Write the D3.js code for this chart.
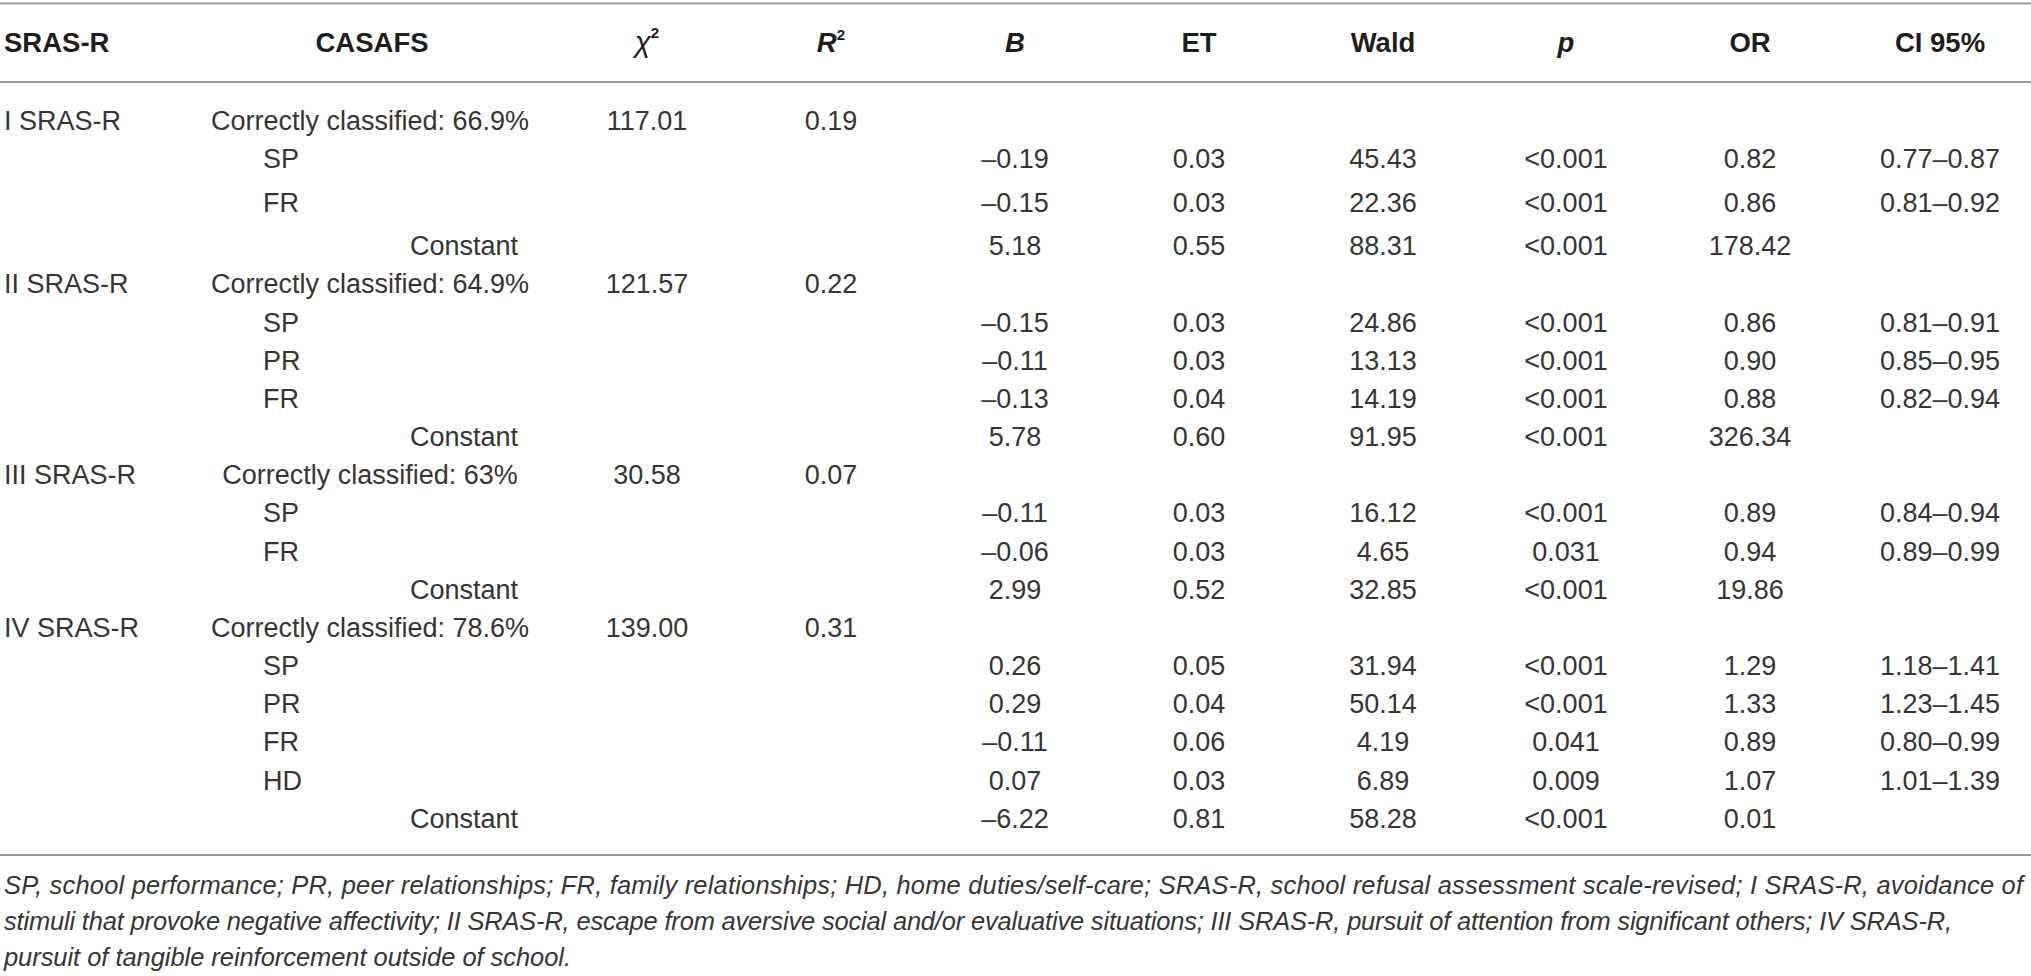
<!DOCTYPE html>
<html>
<head>
<meta charset="utf-8">
<script src="https://cdn.jsdelivr.net/npm/d3@7"></script>
<style>
  html, body { margin: 0; padding: 0; background: #fff; }
  svg { display: block; }
</style>
</head>
<body>
<svg id="chart" width="2031" height="976"></svg>
<script>
// ---------- DATA ----------
const headers = ["SRAS-R", "CASAFS", "χ2", "R2", "B", "ET", "Wald", "p", "OR", "CI 95%"];
const rowType = ["group","pred","pred","const","group","pred","pred","pred","const","group","pred","pred","const","group","pred","pred","pred","pred","const"];
const srasLabels = ["I SRAS-R","","","","II SRAS-R","","","","","III SRAS-R","","","","IV SRAS-R","","","","",""];
const casafsLabels = ["Correctly classified: 66.9%","SP","FR","Constant","Correctly classified: 64.9%","SP","PR","FR","Constant","Correctly classified: 63%","SP","FR","Constant","Correctly classified: 78.6%","SP","PR","FR","HD","Constant"];
const chi2Values = ["117.01","","","","121.57","","","","","30.58","","","","139.00","","","","",""];
const r2Values   = ["0.19","","","","0.22","","","","","0.07","","","","0.31","","","","",""];
const bValues    = ["","–0.19","–0.15","5.18","","–0.15","–0.11","–0.13","5.78","","–0.11","–0.06","2.99","","0.26","0.29","–0.11","0.07","–6.22"];
const etValues   = ["","0.03","0.03","0.55","","0.03","0.03","0.04","0.60","","0.03","0.03","0.52","","0.05","0.04","0.06","0.03","0.81"];
const waldValues = ["","45.43","22.36","88.31","","24.86","13.13","14.19","91.95","","16.12","4.65","32.85","","31.94","50.14","4.19","6.89","58.28"];
const pValues    = ["","<0.001","<0.001","<0.001","","<0.001","<0.001","<0.001","<0.001","","<0.001","0.031","<0.001","","<0.001","<0.001","0.041","0.009","<0.001"];
const orValues   = ["","0.82","0.86","178.42","","0.86","0.90","0.88","326.34","","0.89","0.94","19.86","","1.29","1.33","0.89","1.07","0.01"];
const ciValues   = ["","0.77–0.87","0.81–0.92","","","0.81–0.91","0.85–0.95","0.82–0.94","","","0.84–0.94","0.89–0.99","","","1.18–1.41","1.23–1.45","0.80–0.99","1.01–1.39",""];
const footnoteLines = [
  "SP, school performance; PR, peer relationships; FR, family relationships; HD, home duties/self-care; SRAS-R, school refusal assessment scale-revised; I SRAS-R, avoidance of",
  "stimuli that provoke negative affectivity; II SRAS-R, escape from aversive social and/or evaluative situations; III SRAS-R, pursuit of attention from significant others; IV SRAS-R,",
  "pursuit of tangible reinforcement outside of school."
];

// ---------- LAYOUT ----------
const W = 2031, H = 976;
const FONT = "'Liberation Sans', Arial, Helvetica, sans-serif";
const bodySize = 27, headSize = 27.5;
const textColor = "#353535", headColor = "#1e1e1e", ruleColor = "#9a9a9a";

const numCols = ["chi2","r2","b","et","wald","p","or","ci"];
const colData = { chi2: chi2Values, r2: r2Values, b: bValues, et: etValues, wald: waldValues, p: pValues, or: orValues, ci: ciValues };
const xCol = d3.scaleOrdinal().domain(numCols).range([647, 831, 1015, 1199, 1383, 1566, 1750, 1940]);
const nRows = casafsLabels.length;
const yRow = d3.scaleLinear().domain([0, 1, 3, nRows - 1]).range([120.5, 158.5, 245.5, 818]);
const capOff = bodySize * 0.36;

const svg = d3.select("#chart");
svg.append("rect").attr("width", W).attr("height", H).attr("fill", "#fff");

// Rules
const rules = [3.5, 82, 855];
svg.selectAll("line.rule").data(rules).enter().append("line")
  .attr("class", "rule")
  .attr("x1", 0).attr("x2", W)
  .attr("y1", d => d).attr("y2", d => d)
  .attr("stroke", ruleColor).attr("stroke-width", 2);

// Header
const headY = 52;
const hg = svg.append("g").attr("font-family", FONT).attr("font-size", headSize)
  .attr("font-weight", "bold").attr("fill", headColor);
hg.append("text").attr("x", 4).attr("y", headY).text(headers[0]);
hg.append("text").attr("x", 372).attr("y", headY).attr("text-anchor", "middle").text(headers[1]);
const chi = hg.append("text").attr("x", xCol("chi2")).attr("y", headY).attr("text-anchor", "middle");
chi.append("tspan").attr("font-style", "italic").attr("font-weight", "normal").attr("font-size", headSize + 2).text("χ");
chi.append("tspan").attr("font-size", headSize * 0.55).attr("dy", -14).text("2");
const r2h = hg.append("text").attr("x", xCol("r2")).attr("y", headY).attr("text-anchor", "middle");
r2h.append("tspan").attr("font-style", "italic").text("R");
r2h.append("tspan").attr("font-size", headSize * 0.55).attr("dy", -12).text("2");
hg.append("text").attr("x", xCol("b")).attr("y", headY).attr("text-anchor", "middle").attr("font-style", "italic").text(headers[4]);
hg.append("text").attr("x", xCol("et")).attr("y", headY).attr("text-anchor", "middle").text(headers[5]);
hg.append("text").attr("x", xCol("wald")).attr("y", headY).attr("text-anchor", "middle").text(headers[6]);
hg.append("text").attr("x", xCol("p")).attr("y", headY).attr("text-anchor", "middle").attr("font-style", "italic").text(headers[7]);
hg.append("text").attr("x", xCol("or")).attr("y", headY).attr("text-anchor", "middle").text(headers[8]);
hg.append("text").attr("x", xCol("ci")).attr("y", headY).attr("text-anchor", "middle").text(headers[9]);

// Body
const bg = svg.append("g").attr("font-family", FONT).attr("font-size", bodySize).attr("fill", textColor);
const idx = d3.range(nRows);

bg.selectAll("text.sras").data(idx.filter(i => srasLabels[i])).enter().append("text")
  .attr("class", "sras").attr("x", 4).attr("y", i => yRow(i) + capOff).text(i => srasLabels[i]);

bg.selectAll("text.casafs").data(idx).enter().append("text")
  .attr("class", "casafs")
  .attr("x", i => rowType[i] === "group" ? 370 : rowType[i] === "pred" ? 263 : 410)
  .attr("text-anchor", i => rowType[i] === "group" ? "middle" : "start")
  .attr("y", i => yRow(i) + capOff)
  .text(i => casafsLabels[i]);

numCols.forEach(c => {
  bg.selectAll("text.c-" + c).data(idx.filter(i => colData[c][i])).enter().append("text")
    .attr("class", "c-" + c)
    .attr("x", xCol(c)).attr("text-anchor", "middle")
    .attr("y", i => yRow(i) + capOff)
    .text(i => colData[c][i]);
});

// Footnote
const fg = svg.append("g").attr("font-family", FONT).attr("font-style", "italic").attr("fill", textColor);
const fBase = [894, 930, 966];
const fTarget = [2019, 1948, 567];
const ratios = footnoteLines.map((t, i) => {
  const p = fg.append("text").attr("font-size", 25).text(t);
  const w = p.node().getComputedTextLength();
  p.remove();
  return fTarget[i] / w;
});
const fSize = 25 * d3.mean(ratios);
fg.attr("font-size", fSize);
fg.selectAll("text").data(footnoteLines).enter().append("text")
  .attr("x", 4).attr("y", (d, i) => fBase[i])
  .attr("textLength", (d, i) => fTarget[i])
  .attr("lengthAdjust", "spacing")
  .text(d => d);
</script>
</body>
</html>
